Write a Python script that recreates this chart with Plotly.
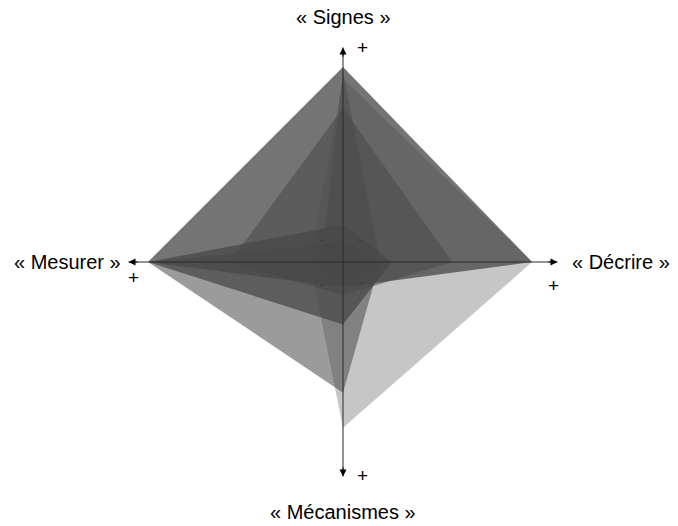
import plotly.graph_objects as go

# four axes: Signes (up), Décrire (right), Mécanismes (down), Mesurer (left)
axes_labels = ["« Signes »", "« Décrire »", "« Mécanismes »", "« Mesurer »"]

# one value per profile on each axis (0-10 scale)
signes = [10.0, 9.4, 7.9, 1.0, 9.8, 1.9]
decrire = [9.7, 9.7, 5.6, 1.9, 1.9, 2.5]
mecanismes = [1.3, 8.5, 1.7, 6.7, 1.0, 3.2]
mesurer = [10.0, 1.7, 5.8, 10.0, 1.1, 10.0]

opacites = [0.76, 0.31, 0.55, 0.55, 0.45, 0.75]

UNIT = 19.5          # px per unit
CX, CY = 343, 262    # centre in page pixels
W, H = 678, 526
L = 11.0             # axis length (arrow tip)

fig = go.Figure()

for s, d, mc, me, op in zip(signes, decrire, mecanismes, mesurer, opacites):
    fig.add_trace(go.Scatter(
        x=[0, d, 0, -me, 0],
        y=[s, 0, -mc, 0, s],
        mode='lines',
        fill='toself',
        fillcolor=f'rgba(72,72,72,{op})',
        line=dict(width=0),
        hoverinfo='skip',
        showlegend=False,
    ))

# axis lines
fig.add_shape(type='line', x0=0, y0=-L, x1=0, y1=L, line=dict(color='#2a2a2a', width=1), layer='above')
fig.add_shape(type='line', x0=-L, y0=0, x1=L, y1=0, line=dict(color='#2a2a2a', width=1), layer='above')

# arrow heads
for tx, ty in [(0, L), (L, 0), (0, -L), (-L, 0)]:
    fig.add_annotation(x=tx, y=ty, ax=tx * 0.95, ay=ty * 0.95, xref='x', yref='y',
                       axref='x', ayref='y', text='', showarrow=True,
                       arrowhead=2, arrowsize=1.4, arrowwidth=1, arrowcolor='black')

# "+" marks
for px, py in [(362, 47), (553, 285), (362, 475), (133, 277)]:
    fig.add_annotation(x=(px - CX) / UNIT, y=(CY - py) / UNIT, text='+', showarrow=False,
                       font=dict(size=19, color='black', family='Liberation Sans, Arial'))

# faint "-" marks near the centre
for px, py in [(322, 240), (360, 240), (322, 285), (360, 283)]:
    fig.add_annotation(x=(px - CX) / UNIT, y=(CY - py) / UNIT, text='-', showarrow=False,
                       font=dict(size=12, color='#3a3a3a', family='Liberation Sans, Arial'))

# axis names
for lab, (px, py) in zip(axes_labels, [(343, 17), (621, 262), (343, 512), (67, 262)]):
    fig.add_annotation(x=(px - CX) / UNIT, y=(CY - py) / UNIT, text=lab, showarrow=False,
                       font=dict(size=20, color='black', family='Liberation Sans, Arial'))

fig.update_layout(
    width=W, height=H,
    margin=dict(l=0, r=0, t=0, b=0),
    plot_bgcolor='white',
    paper_bgcolor='white',
    xaxis=dict(range=[-CX / UNIT, (W - CX) / UNIT], visible=False, fixedrange=True),
    yaxis=dict(range=[-(H - CY) / UNIT, CY / UNIT], visible=False, fixedrange=True),
)

# page body has a default 8px margin, remove it so the figure fills the window
fig.write_html("out.html", config={'displayModeBar': False},
               post_script="document.body.style.margin='0';")
